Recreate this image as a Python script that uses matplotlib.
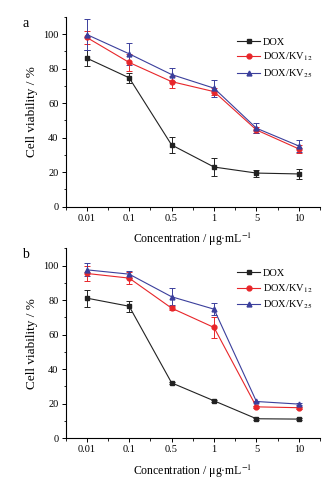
import matplotlib.pyplot as plt
from matplotlib.lines import Line2D
from matplotlib.ticker import MultipleLocator

plt.rcParams['font.family'] = ['Liberation Serif', 'DejaVu Serif']
plt.rcParams['mathtext.fontset'] = 'stix'

conc = ["0.01", "0.1", "0.5", "1", "5", "10"]
series = ["DOX", "DOX/KV$_{12}$", "DOX/KV$_{25}$"]
colors = ["#222222", "#e8262a", "#3b3f9c"]
markers = ["s", "o", "^"]

# panel a
a_dox = [86.1, 74.7, 35.8, 23.0, 19.5, 19.0]
a_dox_err = [4.5, 3.0, 4.5, 5.0, 2.0, 3.0]
a_kv12 = [98.1, 83.6, 72.5, 66.7, 44.5, 33.5]
a_kv12_err = [4.0, 5.0, 3.5, 2.0, 1.5, 2.5]
a_kv25 = [99.8, 88.6, 76.6, 68.7, 45.5, 35.2]
a_kv25_err = [9.0, 6.3, 4.0, 5.0, 3.0, 3.4]

# panel b
b_dox = [81.1, 76.4, 32.0, 21.6, 11.2, 11.0]
b_dox_err = [5.0, 3.3, 0.5, 0.5, 0.5, 0.5]
b_kv12 = [95.4, 92.7, 75.3, 64.1, 18.1, 17.6]
b_kv12_err = [4.5, 3.5, 1.0, 6.0, 0.5, 0.5]
b_kv25 = [97.5, 95.0, 81.9, 74.7, 21.2, 19.7]
b_kv25_err = [3.7, 2.0, 4.8, 3.4, 0.5, 0.5]

fig = plt.figure(figsize=(3.31, 4.83), dpi=100)
ax_a = fig.add_axes([0.198, 0.572, 0.769, 0.393])
ax_b = fig.add_axes([0.198, 0.093, 0.769, 0.393])

panels = [
    (ax_a, "a", [a_dox, a_kv12, a_kv25], [a_dox_err, a_kv12_err, a_kv25_err]),
    (ax_b, "b", [b_dox, b_kv12, b_kv25], [b_dox_err, b_kv12_err, b_kv25_err]),
]

x = list(range(len(conc)))
for ax, tag, vals, errs in panels:
    handles = []
    for name, v, e, c, m in zip(series, vals, errs, colors, markers):
        ax.errorbar(x, v, yerr=e, color=c, marker=m, markersize=3.5, lw=0.8,
                    elinewidth=0.7, capsize=2, capthick=0.7)
        handles.append(Line2D([], [], color=c, marker=m, markersize=3.5, lw=0.8, label=name))
    ax.set_xlim(-0.5, 5.5)
    ax.set_ylim(0, 110)
    ax.set_xticks(x)
    ax.set_xticklabels(conc)
    ax.xaxis.set_minor_locator(MultipleLocator(0.5))
    ax.set_yticks([0, 20, 40, 60, 80, 100])
    ax.yaxis.set_minor_locator(MultipleLocator(10))
    ax.tick_params(which="major", direction="out", length=3, width=0.7, labelsize=7.5, pad=2)
    ax.tick_params(which="minor", direction="out", length=1.8, width=0.6)
    ax.spines["top"].set_visible(False)
    ax.spines["right"].set_visible(False)
    ax.spines["left"].set_linewidth(0.8)
    ax.spines["bottom"].set_linewidth(0.8)
    ax.set_ylabel("Cell viability / %", fontsize=9.5, labelpad=4)
    ax.set_xlabel("Concentration / μg·mL$^{-1}$", fontsize=8.5, labelpad=6)
    ax.legend(handles=handles, loc="upper right", frameon=False, fontsize=7.5,
              handlelength=2.2, handletextpad=0.3, labelspacing=0.4,
              borderaxespad=0.3, bbox_to_anchor=(1.0, 0.93))
    ax.text(-0.17, 1.0, tag, transform=ax.transAxes, fontsize=10, va="top")

fig.savefig("out.png", dpi=100)
